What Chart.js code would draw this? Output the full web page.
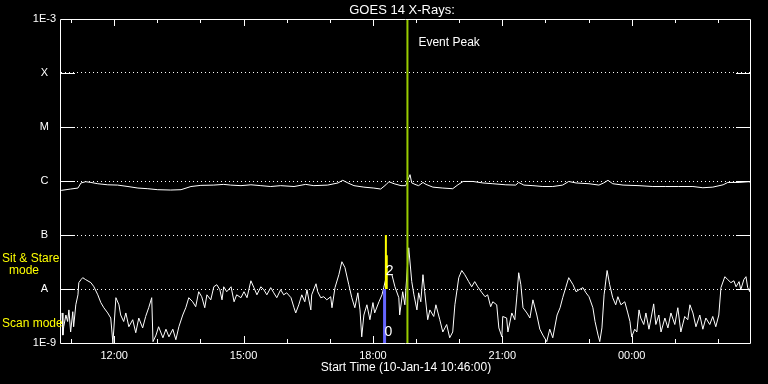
<!DOCTYPE html>
<html>
<head>
<meta charset="utf-8">
<script src="https://cdn.jsdelivr.net/npm/chart.js@4.4.0/dist/chart.umd.min.js"></script>
<style>
  html, body { margin: 0; padding: 0; background: #000; }
  canvas { display: block; }
</style>
</head>
<body>
<canvas id="goesChart" width="768" height="384"></canvas>
<script>
// time = hours since 00:00 on 10-Jan-14 (values above 24 are on 11-Jan)
const shortTime = [
  10.79,10.81,10.83,10.88,10.92,10.95,10.99,11.04,11.06,11.11,
  11.16,11.18,11.23,11.27,11.34,11.46,11.53,11.62,11.69,11.76,
  11.85,11.92,11.97,12.04,12.11,12.15,12.22,12.27,12.34,12.43,
  12.50,12.57,12.66,12.73,12.80,12.87,12.90,12.97,13.03,13.13,
  13.20,13.27,13.36,13.43,13.50,13.59,13.66,13.73,13.82,13.89,
  13.96,14.03,14.10,14.15,14.24,14.31,14.38,14.45,14.50,14.54,
  14.61,14.71,14.78,14.84,14.94,15.01,15.08,15.17,15.24,15.31,
  15.40,15.47,15.54,15.63,15.70,15.77,15.86,15.93,16.00,16.10,
  16.17,16.21,16.28,16.35,16.42,16.47,16.56,16.58,16.68,16.72,
  16.79,16.86,16.93,17.02,17.05,17.12,17.21,17.28,17.35,17.44,
  17.51,17.58,17.65,17.70,17.74,17.79,17.86,17.93,18.00,18.04,
  18.14,18.21,18.25,18.32,18.44,18.51,18.60,18.62,18.69,18.74,
  18.83,18.90,18.95,19.02,19.06,19.11,19.16,19.20,19.27,19.32,
  19.41,19.46,19.55,19.62,19.71,19.78,19.85,19.90,19.99,20.06,
  20.13,20.22,20.29,20.36,20.43,20.53,20.60,20.66,20.73,20.78,
  20.87,20.92,20.99,21.01,21.10,21.13,21.22,21.29,21.34,21.38,
  21.43,21.48,21.57,21.64,21.71,21.80,21.87,21.94,22.03,22.10,
  22.17,22.27,22.34,22.40,22.47,22.54,22.64,22.71,22.78,22.87,
  22.94,23.01,23.10,23.15,23.22,23.26,23.31,23.36,23.43,23.49,
  23.56,23.63,23.68,23.75,23.84,23.91,23.96,24.00,24.07,24.12,
  24.17,24.21,24.28,24.33,24.40,24.45,24.51,24.56,24.63,24.68,
  24.77,24.84,24.91,25.00,25.07,25.14,25.23,25.30,25.35,25.42,
  25.49,25.58,25.65,25.72,25.81,25.88,25.95,26.02,26.07,26.16,
  26.23,26.30,26.37,26.42,26.49,26.53,26.60,26.65,26.69,26.74,26.76
];
const shortFlux = [
  3.6e-9,1.4e-9,2.0e-9,3.3e-9,2.5e-9,4.1e-9,1.6e-9,3.8e-9,2.0e-9,5.1e-9,
  7.8e-9,1.31e-8,1.49e-8,1.62e-8,1.49e-8,1.31e-8,1.1e-8,7.8e-9,5.6e-9,4.5e-9,
  3.6e-9,2.9e-9,1.0e-9,6.9e-9,5.1e-9,3.3e-9,2.5e-9,3.6e-9,2.0e-9,2.7e-9,
  1.55e-9,2.9e-9,1.9e-9,3.1e-9,4.5e-9,6.9e-9,1.06e-9,1.4e-9,2.0e-9,1.25e-9,
  1.8e-9,1.3e-9,1.8e-9,1.15e-9,2.0e-9,3.3e-9,4.5e-9,6.9e-9,5.8e-9,4.7e-9,
  8.9e-9,7.2e-9,4.5e-9,7.8e-9,6.3e-9,1.1e-8,1.2e-8,9.7e-9,6.3e-9,1.1e-8,
  8.9e-9,1.1e-8,5.8e-9,7.8e-9,6.9e-9,8.9e-9,6.9e-9,1.42e-8,1.06e-8,7.8e-9,
  1.1e-8,9.7e-9,7.8e-9,1.06e-8,8.5e-9,6.9e-9,9.7e-9,7.8e-9,8.5e-9,6.9e-9,
  4.5e-9,3.6e-9,5.1e-9,7.8e-9,5.8e-9,9.7e-9,4.1e-9,7.8e-9,1.25e-8,8.9e-9,
  6.9e-9,7.2e-9,6.3e-9,7.2e-9,4.5e-9,1.06e-8,1.84e-8,3.2e-8,2.5e-8,1.2e-8,
  6.9e-9,4.5e-9,8.5e-9,4.1e-9,1.3e-9,3.3e-9,5.1e-9,2.7e-9,5.6e-9,3.6e-9,
  5.8e-9,7.8e-9,1.06e-8,1.84e-8,1.84e-8,1.1e-8,6.9e-9,3.3e-9,8.9e-9,5.1e-9,
  5.8e-8,1.37e-8,7.8e-9,4.1e-9,8.5e-9,5.8e-9,1.84e-8,8.9e-9,2.7e-9,4.1e-9,
  3.1e-9,5.1e-9,2.7e-9,1.6e-9,2.2e-9,1.25e-9,1.6e-9,5.1e-9,1.62e-8,2.2e-8,
  1.84e-8,1.37e-8,1.1e-8,1.37e-8,1.1e-8,8.5e-9,7.2e-9,7.8e-9,4.7e-9,5.8e-9,
  5.1e-9,1.9e-9,1.3e-9,3.1e-9,2.9e-9,1.6e-9,3.6e-9,2.7e-9,7.8e-9,2.0e-8,
  1.2e-8,4.5e-9,3.6e-9,2.9e-9,6.3e-9,3.3e-9,1.8e-9,1.4e-9,1.06e-9,1.8e-9,
  1.25e-9,3.3e-9,4.5e-9,6.9e-9,1.06e-8,1.62e-8,1.2e-8,8.9e-9,9.7e-9,1.06e-8,
  8.5e-9,7.2e-9,4.5e-9,2.5e-9,1.4e-9,1.06e-9,1.9e-9,7.8e-9,2.2e-8,1.2e-8,
  6.9e-9,5.1e-9,7.2e-9,5.1e-9,5.8e-9,3.6e-9,2.5e-9,1.3e-9,1.8e-9,1.6e-9,
  4.1e-9,2.9e-9,2.2e-9,3.6e-9,1.8e-9,2.9e-9,5.3e-9,2.2e-9,3.3e-9,1.6e-9,
  2.9e-9,1.9e-9,3.6e-9,2.2e-9,4.5e-9,1.6e-9,3.1e-9,2.7e-9,5.1e-9,3.6e-9,
  2.0e-9,3.3e-9,1.8e-9,2.9e-9,2.2e-9,3.1e-9,2.0e-9,3.3e-9,1.06e-8,1.69e-8,
  1.49e-8,1.31e-8,1.42e-8,1.1e-8,1.37e-8,9.7e-9,1.49e-8,1.69e-8,1.06e-8,8.9e-9,1.31e-8
];
const longTime = [
  10.77,10.99,11.16,11.23,11.34,11.46,11.62,11.85,12.08,12.32,
  12.55,12.78,13.01,13.31,13.55,13.78,14.01,14.31,14.54,14.70,
  14.94,15.17,15.40,15.63,15.86,16.17,16.44,16.63,16.95,17.19,
  17.30,17.42,17.56,17.79,18.02,18.18,18.30,18.37,18.49,18.65,
  18.76,18.86,18.90,19.00,19.06,19.16,19.23,19.39,19.62,19.85,
  19.97,20.09,20.32,20.55,20.78,21.08,21.31,21.38,21.50,21.71,
  21.94,22.17,22.40,22.54,22.71,23.01,23.24,23.35,23.45,23.56,
  23.80,24.17,24.49,24.79,25.09,25.42,25.65,25.88,26.12,26.23,
  26.49,26.72,26.76
];
const longFlux = [
  6.7e-7,7.1e-7,7.4e-7,9.2e-7,9.7e-7,9.4e-7,8.9e-7,8.5e-7,8.4e-7,7.9e-7,
  7.4e-7,7.2e-7,6.9e-7,6.8e-7,6.9e-7,7.9e-7,8.3e-7,8.4e-7,8.65e-7,8.4e-7,
  8.2e-7,8.5e-7,8.2e-7,7.9e-7,8.2e-7,7.9e-7,8.65e-7,8.2e-7,8.4e-7,9.2e-7,
  1.03e-6,9.2e-7,8.2e-7,7.7e-7,7.4e-7,7.1e-7,8.5e-7,9.7e-7,8.9e-7,8.2e-7,
  8.2e-7,1.31e-6,9.2e-7,8.5e-7,8.2e-7,9.4e-7,8.65e-7,7.7e-7,7.4e-7,7.2e-7,
  8.5e-7,9.8e-7,9.8e-7,9.2e-7,8.9e-7,8.5e-7,8.4e-7,9.4e-7,8.4e-7,8.2e-7,
  7.9e-7,7.9e-7,8.4e-7,9.8e-7,9.2e-7,8.9e-7,8.4e-7,9.2e-7,1.03e-6,8.9e-7,
  8.4e-7,8.2e-7,7.9e-7,7.9e-7,7.9e-7,7.9e-7,7.5e-7,7.7e-7,8.5e-7,9.4e-7,
  9.4e-7,9.7e-7,9.4e-7
];

const yTickValues = [1e-9, 1e-8, 1e-7, 1e-6, 1e-5, 1e-4, 1e-3];
const yTickLabels = ['1E-9', 'A', 'B', 'C', 'M', 'X', '1E-3'];
const xHourTicks = [11, 12, 13, 14, 15, 16, 17, 18, 19, 20, 21, 22, 23, 24, 25, 26];
const xLabelHours = [12, 15, 18, 21, 24];
const xTickLabels = ['12:00', '15:00', '18:00', '21:00', '00:00'];

const startHour = 10 + 46 / 60;
const endHour = startHour + 16;
const eventPeakHour = 18.80;
const sitStareHour = [18.30, 18.32];
const sitStareFlux = [[1e-7, 1e-8], [4.2e-8, 1e-8]];
const scanHour = 18.27;
const scanFlux = [1e-8, 1e-9];
const eventMarks = [
  { text: '2', hour: 18.39, flux: 2.1e-8 },
  { text: '0', hour: 18.36, flux: 1.58e-9 }
];

const FONT = '"Liberation Sans", "DejaVu Sans", sans-serif';

const vline = (h, fluxes) => fluxes.map(f => ({ x: h, y: f }));

const decor = {
  id: 'decor',
  beforeDraw(chart) {
    const c = chart.ctx;
    c.save();
    c.fillStyle = '#000';
    c.fillRect(0, 0, chart.width, chart.height);
    c.restore();
  },
  afterDraw(chart) {
    const c = chart.ctx;
    const a = chart.chartArea;
    const xs = chart.scales.x;
    const ys = chart.scales.y;
    c.save();
    c.strokeStyle = '#fff';
    c.lineWidth = 1;
    c.beginPath();
    c.moveTo(a.left - 0.5, a.top + 0.5);
    c.lineTo(a.right - 0.5, a.top + 0.5);
    c.lineTo(a.right - 0.5, a.bottom + 0.5);
    c.lineTo(a.left - 0.5, a.bottom + 0.5);
    c.closePath();
    // hour ticks, inward, top and bottom
    xHourTicks.forEach(h => {
      const px = Math.round(xs.getPixelForValue(h)) + 0.5;
      const len = xLabelHours.includes(h) ? 7 : 4;
      c.moveTo(px, a.bottom);
      c.lineTo(px, a.bottom - len);
      c.moveTo(px, a.top);
      c.lineTo(px, a.top + len);
    });
    // decade ticks, left and right
    yTickValues.slice(1, -1).forEach(v => {
      const py = Math.round(ys.getPixelForValue(v)) + 0.5;
      c.moveTo(a.left, py);
      c.lineTo(a.left + 14, py);
      c.moveTo(a.right - 15, py);
      c.lineTo(a.right, py);
    });
    c.stroke();

    c.fillStyle = '#fff';
    c.textBaseline = 'middle';
    c.textAlign = 'center';
    c.font = '13px ' + FONT;
    c.fillText('GOES 14 X-Rays:', 402, 10);

    c.textAlign = 'left';
    c.font = '12px ' + FONT;
    c.fillText('Event Peak', xs.getPixelForValue(eventPeakHour) + 11, 43);

    c.textAlign = 'center';
    c.font = '14px ' + FONT;
    eventMarks.forEach(m => {
      c.fillText(m.text, xs.getPixelForValue(m.hour), ys.getPixelForValue(m.flux));
    });

    c.fillStyle = '#ffff00';
    c.font = '12px ' + FONT;
    c.textAlign = 'left';
    c.fillText('Sit & Stare', 2, 259);
    c.fillText('Scan mode', 2, 324);
    c.textAlign = 'center';
    c.fillText('mode', 24, 271);
    c.restore();
  }
};

const lineStyle = { pointRadius: 0, tension: 0, fill: false };

new Chart(document.getElementById('goesChart').getContext('2d'), {
  type: 'line',
  data: {
    datasets: [
      Object.assign({ data: vline(eventPeakHour, [1e-9, 1e-3]), borderColor: '#99cc00', borderWidth: 2 }, lineStyle),
      Object.assign({ data: vline(sitStareHour[0], sitStareFlux[0]), borderColor: '#ffff00', borderWidth: 2 }, lineStyle),
      Object.assign({ data: vline(sitStareHour[1], sitStareFlux[1]), borderColor: '#ffff00', borderWidth: 2 }, lineStyle),
      Object.assign({ data: vline(scanHour, scanFlux), borderColor: '#6666ff', borderWidth: 3 }, lineStyle),
      Object.assign({ data: longTime.map((t, i) => ({ x: t, y: longFlux[i] })), borderColor: '#fff', borderWidth: 1 }, lineStyle),
      Object.assign({ data: shortTime.map((t, i) => ({ x: t, y: shortFlux[i] })), borderColor: '#fff', borderWidth: 1 }, lineStyle)
    ]
  },
  options: {
    responsive: false,
    animation: false,
    devicePixelRatio: 1,
    layout: { padding: { left: 0, right: 17, top: 19, bottom: 0 } },
    plugins: { legend: { display: false }, tooltip: { enabled: false } },
    scales: {
      x: {
        type: 'linear',
        min: startHour,
        max: endHour,
        afterBuildTicks: s => { s.ticks = xHourTicks.map(v => ({ value: v })); },
        afterFit: s => { s.height = 41; },
        grid: { display: false, drawTicks: false },
        border: { display: false },
        ticks: {
          color: '#fff',
          font: { family: FONT, size: 11 },
          padding: 6,
          autoSkip: false,
          maxRotation: 0,
          callback: v => {
            const i = xLabelHours.indexOf(v);
            return i >= 0 ? xTickLabels[i] : '';
          }
        },
        title: {
          display: true,
          text: 'Start Time (10-Jan-14 10:46:00)',
          color: '#fff',
          font: { family: FONT, size: 12 },
          padding: { top: 0, bottom: 9 }
        }
      },
      y: {
        type: 'logarithmic',
        min: 1e-9,
        max: 1e-3,
        afterBuildTicks: s => { s.ticks = yTickValues.map(v => ({ value: v })); },
        afterFit: s => { s.width = 61; },
        grid: {
          drawTicks: false,
          lineWidth: 1,
          color: ctx => (ctx.index === 0 || ctx.index === yTickValues.length - 1) ? 'rgba(0,0,0,0)' : '#fff'
        },
        border: { display: false, dash: [1, 3] },
        ticks: {
          color: '#fff',
          font: { family: FONT, size: 11 },
          padding: 5,
          crossAlign: 'center',
          callback: v => {
            const i = yTickValues.findIndex(t => Math.abs(Math.log10(t) - Math.log10(v)) < 1e-6);
            return i >= 0 ? yTickLabels[i] : '';
          }
        }
      }
    }
  },
  plugins: [decor]
});
</script>
</body>
</html>
